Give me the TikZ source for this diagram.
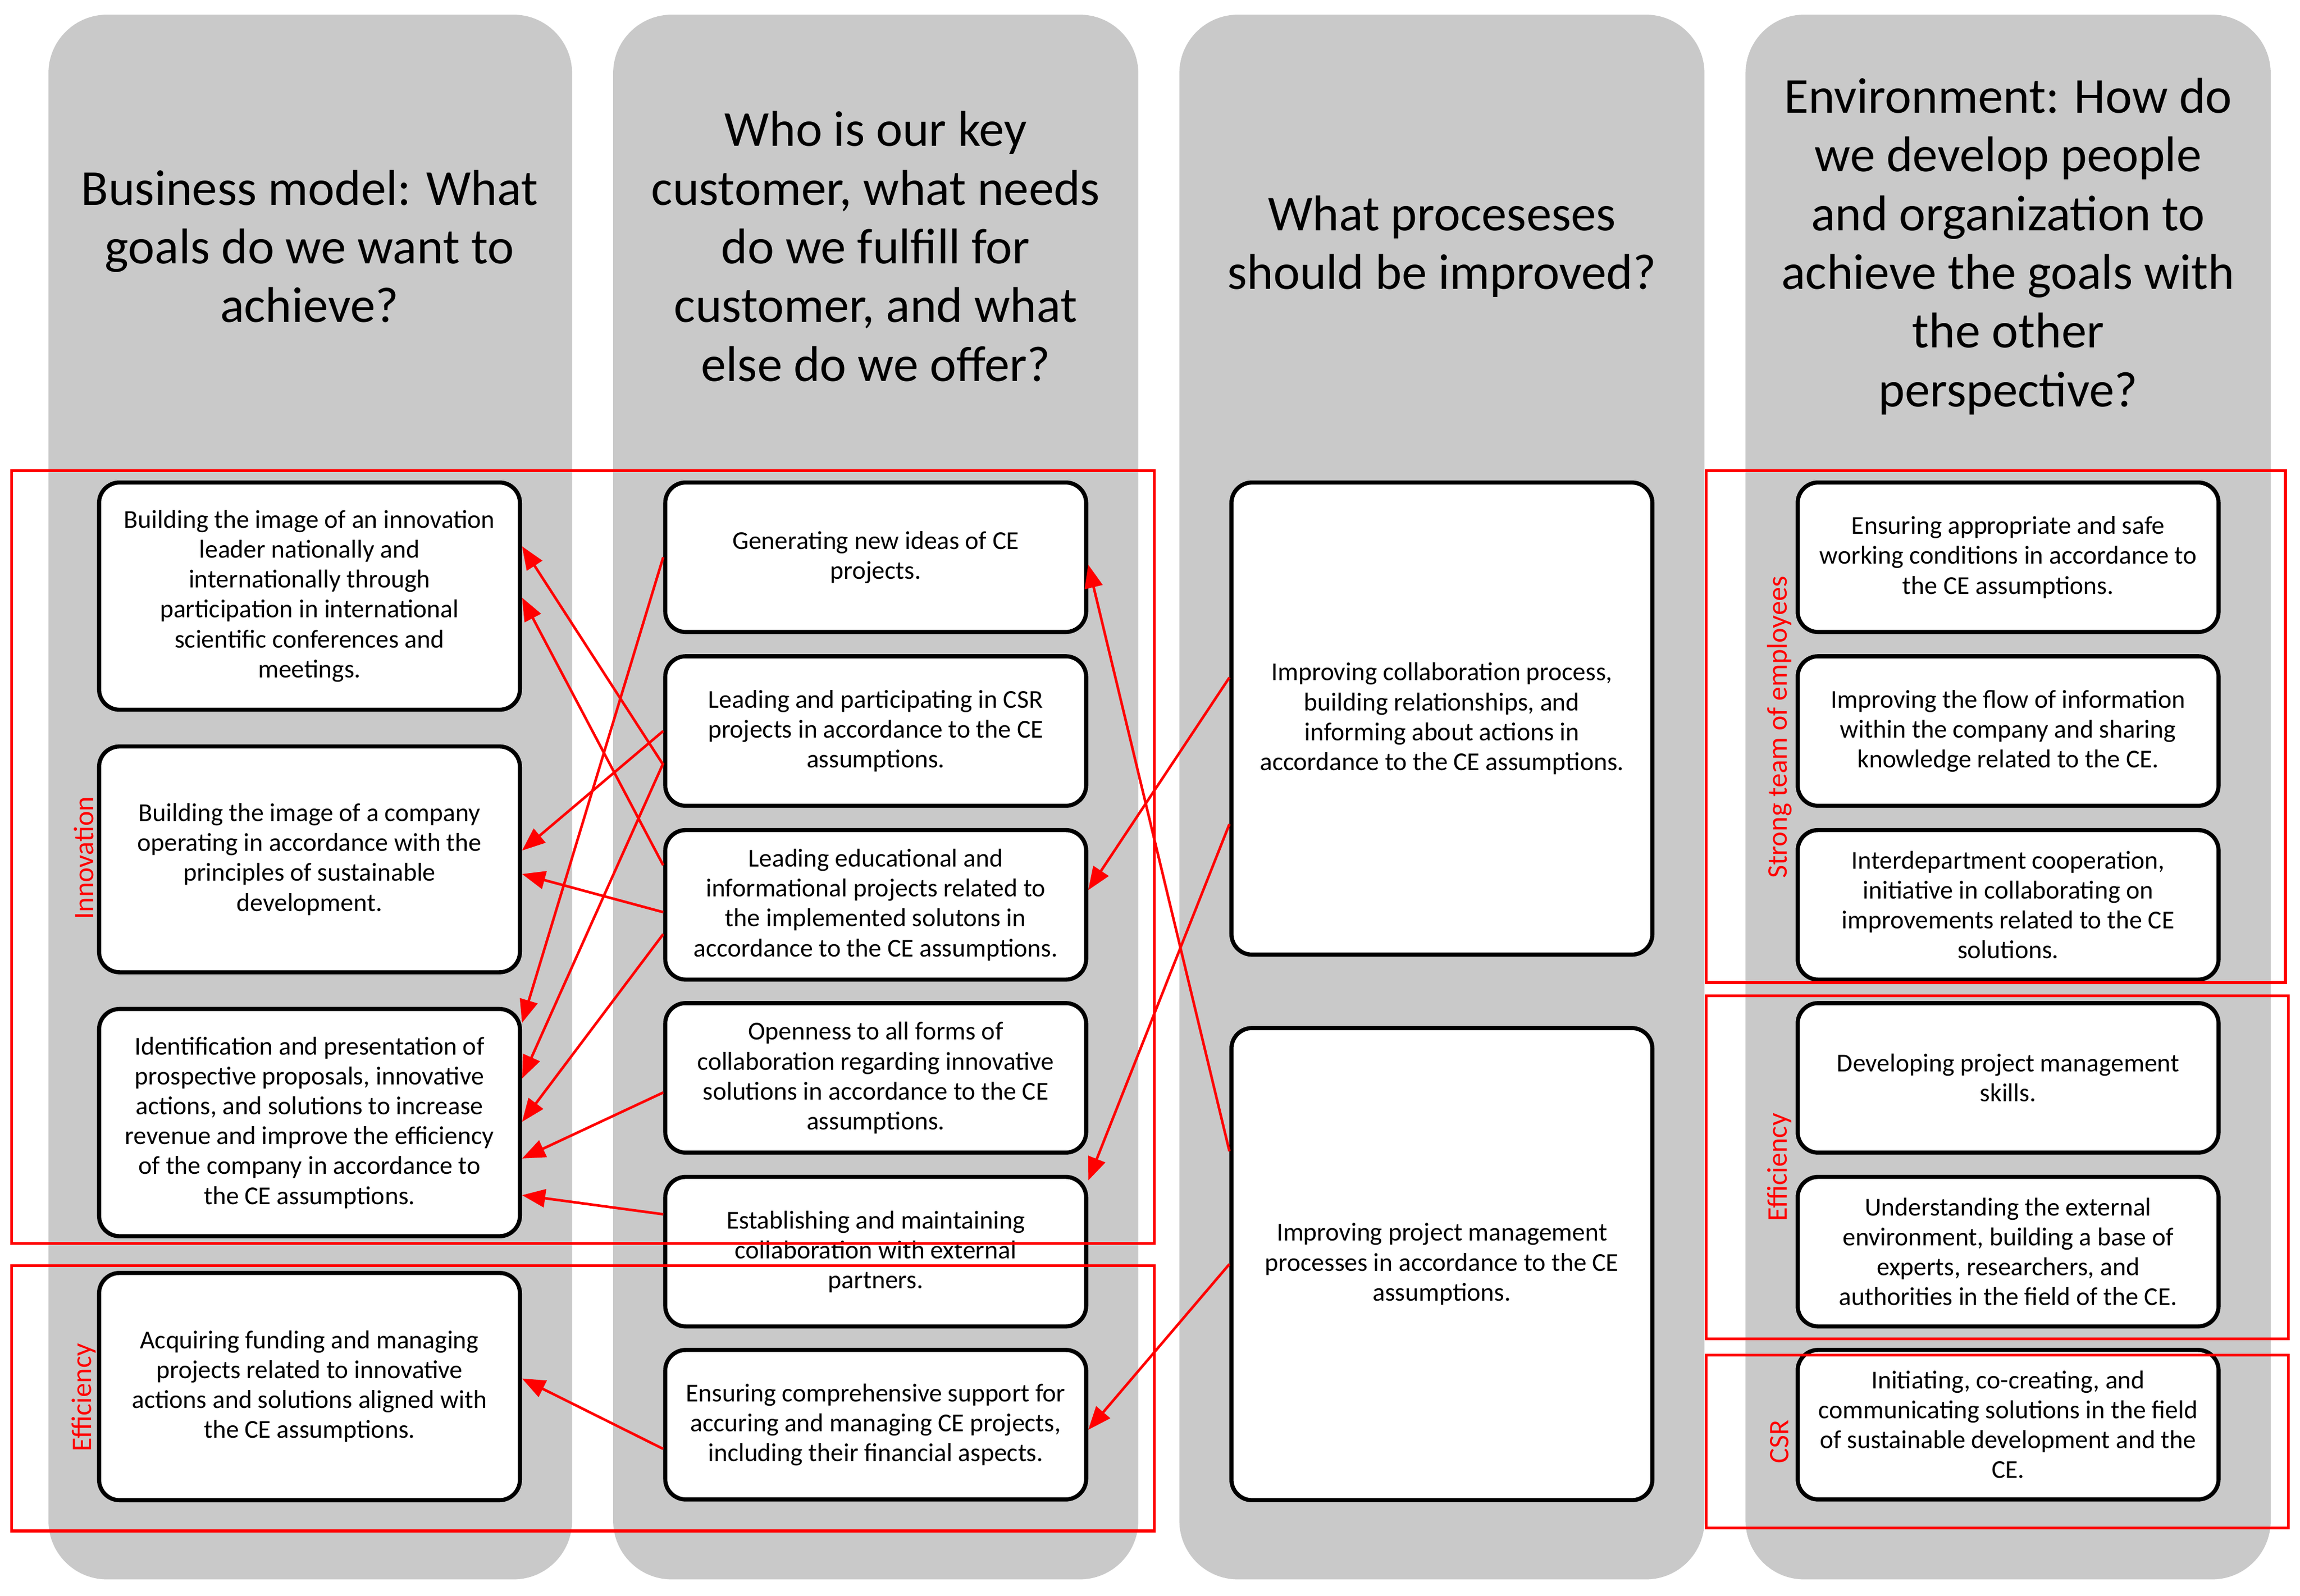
\documentclass[tikz,border=0pt]{standalone}
\usepackage{fontspec}
\setmainfont{Carlito}
\usetikzlibrary{arrows.meta}
\begin{document}
\begin{tikzpicture}[x=0.02cm,y=-0.02cm,
 col/.style={fill=black!21,draw=none,rounded corners=0.8cm},
 hdr/.style={align=center,font=\fontsize{19.5}{22.8}\selectfont},
 box/.style={draw,line width=1.6pt,rounded corners=0.28cm,fill=white,minimum width=5.74cm,align=center,font=\fontsize{10}{11.6}\selectfont,inner sep=0pt},
 grp/.style={draw=red,line width=1.1pt},
 lab/.style={red,rotate=90,font=\fontsize{11}{13}\selectfont},
 arr/.style={red,line width=1pt,-{Triangle[length=9pt,width=7pt]}}]
\useasboundingbox (0,0) rectangle (1568,1088);
\fill[col] (33,10) rectangle (390,1077);
\fill[col] (418,10) rectangle (776,1077);
\fill[col] (804,10) rectangle (1162,1077);
\fill[col] (1190,10) rectangle (1548,1077);
\node[hdr] (h1) at (211,168) {Business model: What\\goals do we want to\\achieve?};
\node[hdr] (h2) at (597,168) {Who is our key\\customer, what needs\\do we fulfill for\\customer, and what\\else do we offer?};
\node[hdr] (h3) at (983,168) {What proceseses\\should be improved?};
\node[hdr] (h4) at (1369,168) {Environment: How do\\we develop people\\and organization to\\achieve the goals with\\the other\\perspective?};
% column 1
\node[box,minimum height=3.1cm] (a1) at (211,406.5) {Building the image of an innovation\\leader nationally and\\internationally through\\participation in international\\scientific conferences and\\meetings.};
\node[box,minimum height=3.08cm] (a2) at (211,586) {Building the image of a company\\operating in accordance with the\\principles of sustainable\\development.};
\node[box,minimum height=3.1cm] (a3) at (211,765.5) {Identification and presentation of\\prospective proposals, innovative\\actions, and solutions to increase\\revenue and improve the efficiency\\of the company in accordance to\\the CE assumptions.};
\node[box,minimum height=3.1cm] (a4) at (211,945.5) {Acquiring funding and managing\\projects related to innovative\\actions and solutions aligned with\\the CE assumptions.};
% column 2
\node[box,minimum height=2.04cm] (b1) at (597,380) {Generating new ideas of CE\\projects.};
\node[box,minimum height=2.04cm] (b2) at (597,498.5) {Leading and participating in CSR\\projects in accordance to the CE\\assumptions.};
\node[box,minimum height=2.04cm] (b3) at (597,617) {Leading educational and\\informational projects related to\\the implemented solutons in\\accordance to the CE assumptions.};
\node[box,minimum height=2.04cm] (b4) at (597,735) {Openness to all forms of\\collaboration regarding innovative\\solutions in accordance to the CE\\assumptions.};
\node[box,minimum height=2.04cm] (b5) at (597,853.5) {Establishing and maintaining\\collaboration with external\\partners.};
\node[box,minimum height=2.04cm] (b6) at (597,971.5) {Ensuring comprehensive support for\\accuring and managing CE projects,\\including their financial aspects.};
% column 3
\node[box,minimum height=6.44cm] (c1) at (983,490) {Improving collaboration process,\\building relationships, and\\informing about actions in\\accordance to the CE assumptions.};
\node[box,minimum height=6.44cm] (c2) at (983,862) {Improving project management\\processes in accordance to the CE\\assumptions.};
% column 4
\node[box,minimum height=2.04cm] (d1) at (1369,380) {Ensuring appropriate and safe\\working conditions in accordance to\\the CE assumptions.};
\node[box,minimum height=2.04cm] (d2) at (1369,498.5) {Improving the flow of information\\within the company and sharing\\knowledge related to the CE.};
\node[box,minimum height=2.04cm] (d3) at (1369,617) {Interdepartment cooperation,\\initiative in collaborating on\\improvements related to the CE\\solutions.};
\node[box,minimum height=2.04cm] (d4) at (1369,735) {Developing project management\\skills.};
\node[box,minimum height=2.04cm] (d5) at (1369,853.5) {Understanding the external\\environment, building a base of\\experts, researchers, and\\authorities in the field of the CE.};
\node[box,minimum height=2.04cm] (d6) at (1369,971.5) {Initiating, co-creating, and\\communicating solutions in the field\\of sustainable development and the\\CE.};
% red groups
\draw[grp] (8,321) rectangle (787,848);
\draw[grp] (8,863) rectangle (787,1044);
\draw[grp] (1163,321) rectangle (1558,670);
\draw[grp] (1163,679) rectangle (1560,913);
\draw[grp] (1163,924) rectangle (1560,1042);
\node[lab] (l1) at (57,585) {Innovation};
\node[lab] (l2) at (57,953) {Efficiency};
\node[lab] (l3) at (1213,496) {Strong team of employees};
\node[lab] (l4) at (1213,796) {Efficiency};
\node[lab] (l5) at (1213,983) {CSR};
% arrows col2 -> col1
\draw[arr] ([yshift=-0.46cm]b2.west) -- ([yshift=0.68cm]a1.east);
\draw[arr] ([yshift=0.54cm]b3.west) -- ([yshift=-0.02cm]a1.east);
\draw[arr] (b1.west) -- ([yshift=1.36cm]a3.east);
\draw[arr] (b2.west) -- ([yshift=0.12cm]a2.east);
\draw[arr] ([yshift=-0.1cm]b3.west) -- ([yshift=-0.2cm]a2.east);
\draw[arr] ([yshift=-0.44cm]b2.west) -- ([yshift=0.6cm]a3.east);
\draw[arr] ([yshift=-0.4cm]b3.west) -- ([yshift=0.01cm]a3.east);
\draw[arr] ([yshift=-0.2cm]b4.west) -- ([yshift=-0.49cm]a3.east);
\draw[arr] ([yshift=0.51cm]b5.west) -- ([yshift=-0.99cm]a3.east);
\draw[arr] ([yshift=-0.33cm]b6.west) -- ([yshift=0.11cm]a4.east);
% arrows col3 -> col2
\draw[arr] ([yshift=0.56cm]c1.west) -- ([yshift=0.2cm]b3.east);
\draw[arr] ([yshift=-1.44cm]c1.west) -- ([yshift=0.97cm]b5.east);
\draw[arr] ([yshift=1.54cm]c2.west) -- ([yshift=-0.1cm]b1.east);
\draw[arr] ([yshift=0cm]c2.west) -- ([yshift=-0.07cm]b6.east);
\end{tikzpicture}
\end{document}
